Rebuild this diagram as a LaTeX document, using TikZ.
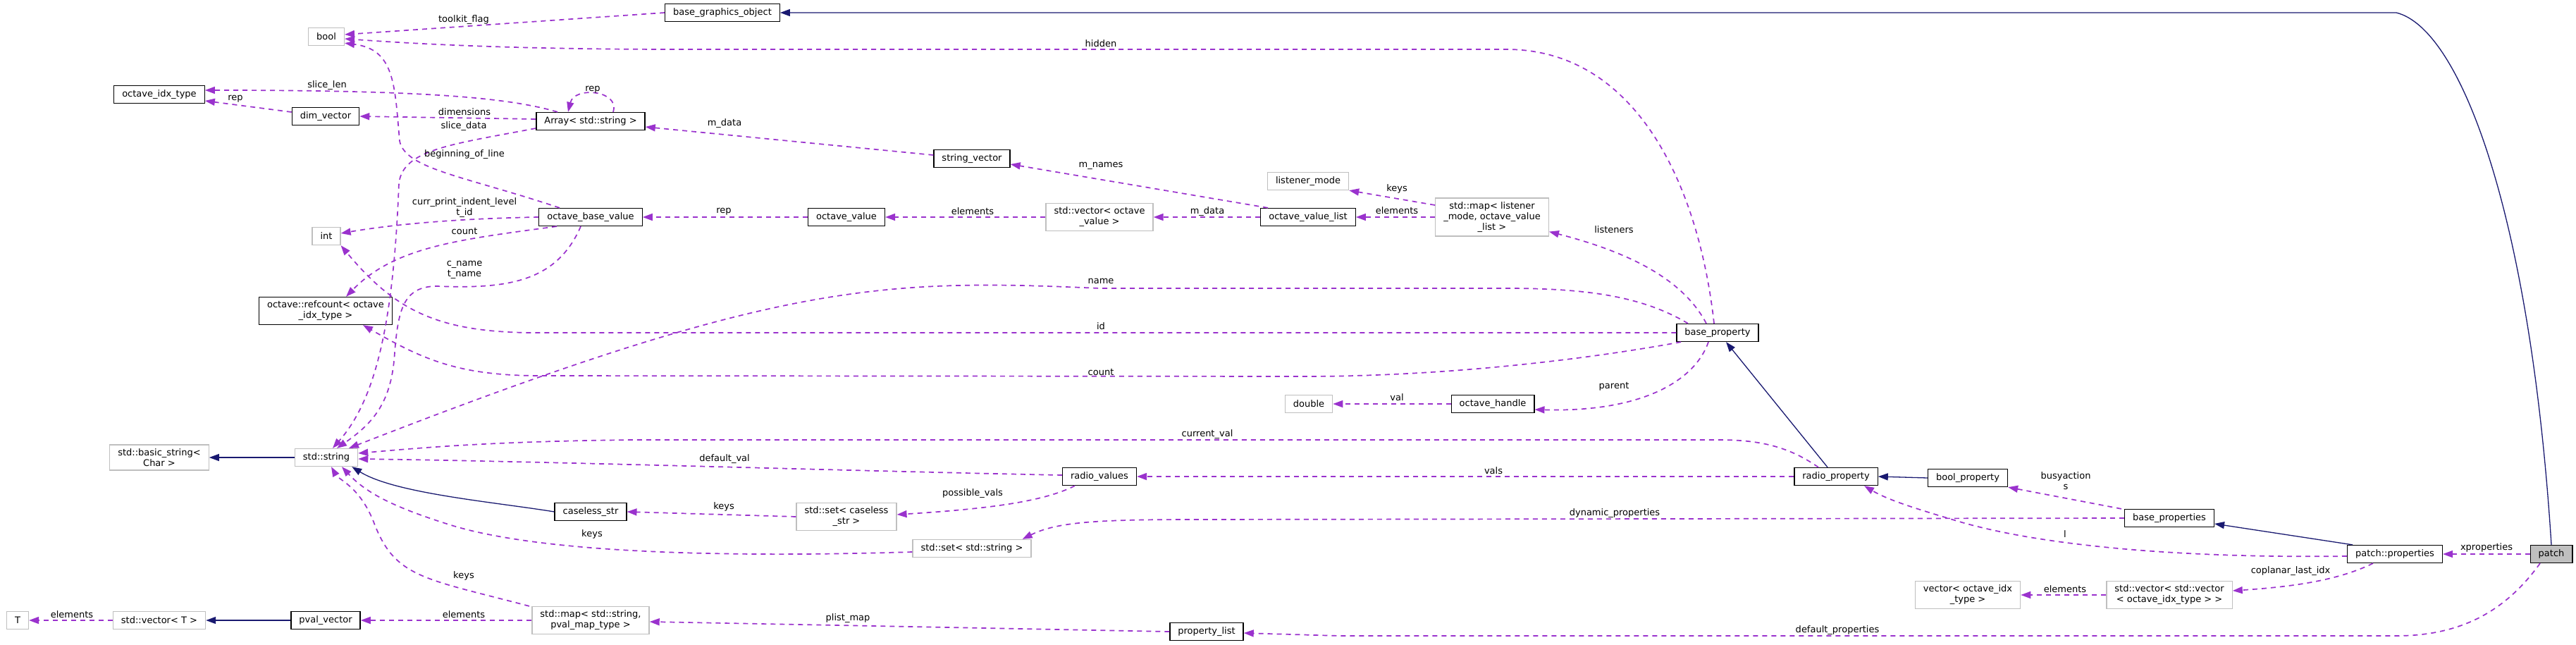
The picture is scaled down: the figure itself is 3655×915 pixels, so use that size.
\documentclass[tikz,border=0pt]{standalone}
\usepackage{fontspec}
\setmainfont{DejaVu Sans}
\usetikzlibrary{arrows.meta}
\definecolor{usecol}{HTML}{9A32CD}
\definecolor{inhcol}{HTML}{191970}
\definecolor{extcol}{HTML}{BFBFBF}

\begin{document}
\begin{tikzpicture}[x=1pt,y=-1pt,font=\fontsize{13}{15}\selectfont,
    box/.style={rectangle,fill=white,inner xsep=11.5pt,inner ysep=5.5pt,minimum height=25pt,align=center,line width=1.3pt},
    cls/.style={box,draw=black},
    ext/.style={box,draw=extcol},
    hl/.style={box,draw=black,fill=extcol},
    inh/.style={draw=inhcol,line width=1.3pt,-{Triangle[length=14pt,width=10pt]}},
    use/.style={draw=usecol,line width=1.7pt,dash pattern=on 7pt off 6pt,-{Triangle[length=14pt,width=10pt]}},
    lbl/.style={inner sep=1pt,align=center}]
    \useasboundingbox (0,0) rectangle (3655,915);

    \node[ext] (T) at (25,880) {T};
    \node[ext] (vecT) at (226,880) {std::vector< T >};
    \node[cls] (idxtype) at (226,134) {octave\_idx\_type};
    \node[ext] (bstring) at (226,649) {std::basic\_string<\\Char >};
    \node[ext] (bool) at (463,52) {bool};
    \node[cls] (dimvec) at (462,165) {dim\_vector};
    \node[ext] (int) at (463,335) {int};
    \node[cls] (refcount) at (462,441) {octave::refcount< octave\\\_idx\_type >};
    \node[ext] (string) at (463,649) {std::string};
    \node[cls] (pvalvec) at (462,880) {pval\_vector};
    \node[cls] (array) at (838,172) {Array< std::string >};
    \node[cls] (obv) at (838,308) {octave\_base\_value};
    \node[cls] (caseless) at (838,726) {caseless\_str};
    \node[ext] (pvalmap) at (838,880) {std::map< std::string,\\pval\_map\_type >};
    \node[cls] (bgo) at (1025,18) {base\_graphics\_object};
    \node[cls] (ovalue) at (1201,308) {octave\_value};
    \node[ext] (setcs) at (1201,733) {std::set< caseless\\\_str >};
    \node[cls] (strvec) at (1379,225) {string\_vector};
    \node[ext] (setstr) at (1379,778) {std::set< std::string >};
    \node[ext] (vecov) at (1560,308) {std::vector< octave\\\_value >};
    \node[cls] (radiovals) at (1560,676) {radio\_values};
    \node[cls] (plist) at (1712,896) {property\_list};
    \node[ext] (lmode) at (1856,257) {listener\_mode};
    \node[cls] (ovlist) at (1856,308) {octave\_value\_list};
    \node[ext] (double) at (1857,573) {double};
    \node[ext] (lmap) at (2117,308) {std::map< listener\\\_mode, octave\_value\\\_list >};
    \node[cls] (handle) at (2118,573) {octave\_handle};
    \node[cls] (bprop) at (2437,472) {base\_property};
    \node[cls] (radioprop) at (2605,676) {radio\_property};
    \node[cls] (boolprop) at (2792,678) {bool\_property};
    \node[ext] (vecidx) at (2792,844) {vector< octave\_idx\\\_type >};
    \node[cls] (bprops) at (3078,735) {base\_properties};
    \node[ext] (vecvec) at (3078,844) {std::vector< std::vector\\< octave\_idx\_type > >};
    \node[cls] (pprops) at (3398,786) {patch::properties};
    \node[hl] (patch) at (3620,786) {patch};

    % inheritance
    \draw[inh] (patch.north) .. controls (3590,300) and (3490,40) .. (3400,18) -- (bgo.east);
    \draw[inh] ([xshift=8pt]pprops.north west) -- ([yshift=-8pt]bprops.east);
    \draw[inh] (boolprop.west) -- (radioprop.east);
    \draw[inh] ([xshift=-12pt]radioprop.north) -- ([xshift=12pt]bprop.south);
    \draw[inh] (string.west) -- (bstring.east);
    \draw[inh] (caseless.west) .. controls (700,712) and (560,700) .. ([xshift=-9pt]string.south east);
    \draw[inh] (pvalvec.west) -- (vecT.east);

    % members
    \draw[use] (bgo.west) -- ([yshift=3pt]bool.east);
    \node[lbl] (l-toolkit) at (658,28) {toolkit\_flag};
    \draw[use] ([xshift=-5pt]bprop.north) .. controls (2410,260) and (2320,70) .. (2137,70) -- (960,70) .. controls (700,70) and (560,60) .. ([yshift=-3pt]bool.east);
    \node[lbl] (l-hidden) at (1562,62) {hidden};
    \draw[use] ([xshift=-47pt]array.north) .. controls (720,138) and (600,128) .. ([yshift=6pt]idxtype.east);
    \node[lbl] (l-slicelen) at (464,121) {slice\_len};
    \draw[use] ([yshift=6pt]dimvec.west) -- ([yshift=-9pt]idxtype.east);
    \node[lbl] (l-rep1) at (334,140) {rep};
    \draw[use] ([yshift=3pt]array.west) -- (dimvec.east);
    \node[lbl] (l-dims) at (659,159) {dimensions};
    \draw[use] ([xshift=32pt]array.north) .. controls (880,128) and (815,122) .. ([xshift=-32pt]array.north);
    \node[lbl] (l-rep2) at (841,127) {rep};
    \draw[use] ([yshift=-10pt]array.west) .. controls (640,205) and (572,212) .. (566,260) .. controls (558,470) and (530,570) .. ([xshift=9pt]string.north);
    \node[lbl] (l-slicedata) at (658,179) {slice\_data};
    \draw[use] ([xshift=-14pt]obv.south) .. controls (790,400) and (720,410) .. (620,406) .. controls (572,406) and (565,440) .. (560,500) .. controls (556,570) and (530,600) .. ([xshift=15pt]string.north);
    \node[lbl] (l-cname) at (659,383) {c\_name\\t\_name};
    \draw[use] ([xshift=-44pt]obv.north) .. controls (660,250) and (575,240) .. (567,200) .. controls (560,120) and (560,70) .. ([yshift=4pt]bool.south east);
    \node[lbl] (l-bol) at (659,219) {beginning\_of\_line};
    \draw[use] (obv.west) .. controls (650,310) and (560,318) .. ([yshift=4pt]int.east);
    \node[lbl] (l-indent) at (659,295) {curr\_print\_indent\_level\\t\_id};
    \draw[use] ([xshift=-48pt]obv.south) .. controls (650,340) and (560,350) .. ([xshift=29pt]refcount.north);
    \node[lbl] (l-count1) at (659,328) {count};
    \draw[use] (ovalue.west) -- (obv.east);
    \node[lbl] (l-rep3) at (1027,300) {rep};
    \draw[use] (vecov.west) -- (ovalue.east);
    \node[lbl] (l-elem1) at (1380,300) {elements};
    \draw[use] (ovlist.west) -- (vecov.east);
    \node[lbl] (l-mdata1) at (1713,300) {m\_data};
    \draw[use] ([xshift=-57pt]ovlist.north) -- ([yshift=-8pt]strvec.east);
    \node[lbl] (l-mnames) at (1562,235) {m\_names};
    \draw[use] ([yshift=5pt]strvec.west) -- ([yshift=-8pt]array.east);
    \node[lbl] (l-mdata2) at (1028,175) {m\_data};
    \draw[use] ([yshift=17pt]lmap.west) -- (lmode.south east);
    \node[lbl] (l-keys1) at (1982,268) {keys};
    \draw[use] (lmap.west) -- (ovlist.east);
    \node[lbl] (l-elem2) at (1982,299) {elements};
    \draw[use] ([xshift=-16pt]bprop.north) .. controls (2390,400) and (2320,360) .. ([yshift=7pt]lmap.south east);
    \node[lbl] (l-listeners) at (2290,326) {listeners};
    \draw[use] ([xshift=-42pt]bprop.north) .. controls (2330,420) and (2250,409) .. (2137,409) -- (1560,409) .. controls (1250,395) and (1100,400) .. ([xshift=32pt]string.north);
    \node[lbl] (l-name) at (1562,399) {name};
    \draw[use] (bprop.west) -- (750,472) .. controls (620,470) and (560,440) .. (int.south east);
    \node[lbl] (l-id) at (1562,463) {id};
    \draw[use] ([xshift=-52pt]bprop.south) .. controls (2250,510) and (2050,534) .. (1850,534) -- (760,533) .. controls (650,532) and (600,510) .. ([xshift=53pt]refcount.south);
    \node[lbl] (l-count2) at (1562,528) {count};
    \draw[use] ([xshift=-13pt]bprop.south) .. controls (2405,540) and (2330,585) .. ([yshift=-8pt]handle.east);
    \node[lbl] (l-parent) at (2290,548) {parent};
    \draw[use] (handle.west) -- (double.east);
    \node[lbl] (l-val) at (1982,564) {val};
    \draw[use] ([xshift=-25pt]radioprop.north) .. controls (2540,635) and (2500,624) .. (2440,624) -- (900,624) .. controls (700,626) and (600,635) .. ([yshift=6pt]string.east);
    \node[lbl] (l-curval) at (1713,616) {current\_val};
    \draw[use] (radioprop.west) -- (radiovals.east);
    \node[lbl] (l-vals) at (2119,668) {vals};
    \draw[use] ([yshift=2pt]radiovals.west) .. controls (1200,668) and (800,655) .. ([yshift=-2pt]string.east);
    \node[lbl] (l-defval) at (1028,651) {default\_val};
    \draw[use] ([xshift=-35pt]radiovals.south) .. controls (1480,712) and (1400,722) .. ([yshift=3pt]setcs.east);
    \node[lbl] (l-possvals) at (1380,700) {possible\_vals};
    \draw[use] (setcs.west) -- (caseless.east);
    \node[lbl] (l-keys2) at (1027,719) {keys};
    \draw[use] ([yshift=-5pt]setstr.west) .. controls (1000,792) and (760,782) .. (640,745) .. controls (560,720) and (520,700) .. ([xshift=22pt]string.south);
    \node[lbl] (l-keys3) at (840,758) {keys};
    \draw[use] (bprops.west) -- (1700,737) .. controls (1560,737) and (1500,740) .. ([xshift=-13pt]setstr.north east);
    \node[lbl] (l-dynprops) at (2291,728) {dynamic\_properties};
    \draw[use] ([xshift=-4pt]bprops.north west) -- (boolprop.south east);
    \node[lbl] (l-busy) at (2931,682) {busyaction\\s};
    \draw[use] ([yshift=-3pt]pprops.west) .. controls (3100,792) and (2900,775) .. (2780,740) .. controls (2720,722) and (2680,710) .. ([xshift=40pt]radioprop.south);
    \node[lbl] (l-l) at (2930,758) {l};
    \draw[use] ([xshift=-31pt]pprops.south) .. controls (3320,822) and (3260,832) .. ([yshift=6pt]vecvec.east);
    \node[lbl] (l-coplanar) at (3250,810) {coplanar\_last\_idx};
    \draw[use] (vecvec.west) -- (vecidx.east);
    \node[lbl] (l-elem3) at (2930,836) {elements};
    \draw[use] (patch.west) -- (pprops.east);
    \node[lbl] (l-xprops) at (3528,777) {xproperties};
    \draw[use] ([xshift=-16pt]patch.south) .. controls (3560,860) and (3500,902) .. (3400,902) -- (1900,902) -- ([yshift=-2pt]plist.east);
    \node[lbl] (l-defprops) at (2607,894) {default\_properties};
    \draw[use] (plist.west) -- ([yshift=-2pt]pvalmap.east);
    \node[lbl] (l-plistmap) at (1203,877) {plist\_map};
    \draw[use] (pvalmap.west) -- (pvalvec.east);
    \node[lbl] (l-elem4) at (658,872) {elements};
    \draw[use] ([xshift=-87pt]pvalmap.north) .. controls (600,820) and (560,820) .. (530,740) .. controls (510,690) and (480,680) .. ([xshift=7pt]string.south);
    \node[lbl] (l-keys4) at (658,817) {keys};
    \draw[use] (vecT.west) -- (T.east);
    \node[lbl] (l-elem5) at (102,872) {elements};
\end{tikzpicture}
\end{document}
